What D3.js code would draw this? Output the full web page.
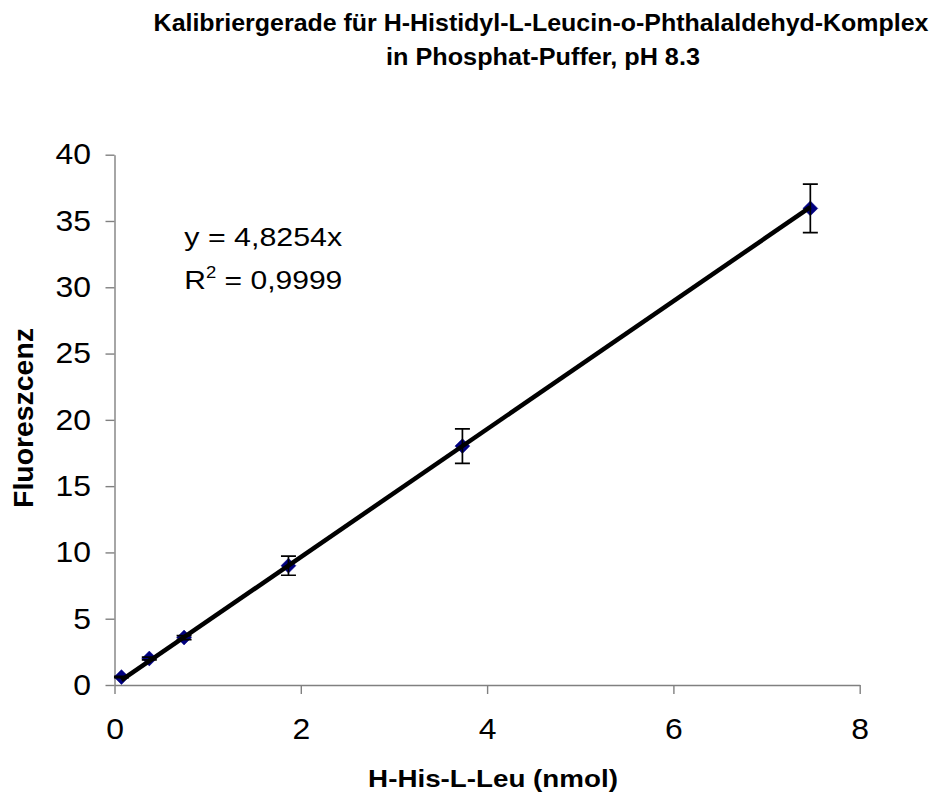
<!DOCTYPE html>
<html>
<head>
<meta charset="utf-8">
<script src="https://cdn.jsdelivr.net/npm/d3@7"></script>
<style>
  html, body { margin: 0; padding: 0; background: #fff; }
  svg { display: block; font-family: "Liberation Sans", Arial, sans-serif; }
</style>
</head>
<body>
<svg id="chart" width="933" height="796"></svg>
<script>
// ---- data ----
const xValues = [0.0747, 0.3735, 0.747, 1.8675, 3.735, 7.47];   // H-His-L-Leu (nmol)
const yValues = [0.6, 2.0, 3.58, 9.0, 18.02, 35.95];            // Fluoreszenz
const yErrors = [0.05, 0.1, 0.15, 0.72, 1.3, 1.83];
const xTicks = [0, 2, 4, 6, 8];
const yTicks = [0, 5, 10, 15, 20, 25, 30, 35, 40];
const slope = 4.8254;
const eqLabel = "y = 4,8254x";
const r2Value = "0,9999";
const titleLines = ["Kalibriergerade für H-Histidyl-L-Leucin-o-Phthalaldehyd-Komplex", "in Phosphat-Puffer, pH 8.3"];
const xTitle = "H-His-L-Leu (nmol)";
const yTitle = "Fluoreszcenz";

// ---- layout ----
const svg = d3.select("#chart");
const x = d3.scaleLinear().domain([0, 8]).range([114.5, 859.7]);
const y = d3.scaleLinear().domain([0, 40]).range([685, 154.7]);
const axisColor = "#808080";

function fitWidth(sel, tx, ty, target, rot) {
  const bw = sel.node().getBBox().width;
  const s = target / bw;
  sel.attr("transform", `translate(${tx},${ty})` + (rot ? ` rotate(${rot})` : "") + ` scale(${s},1)`);
}

// title
const titleSpec = [{cx: 541, by: 30.5, w: 776}, {cx: 543, by: 64.5, w: 314}];
titleLines.forEach((t, i) => {
  const el = svg.append("text").text(t)
    .attr("text-anchor", "middle").attr("font-weight", "bold")
    .attr("font-size", 24).attr("fill", "#000");
  fitWidth(el, titleSpec[i].cx, titleSpec[i].by, titleSpec[i].w);
});

// axes
const tickLabelSize = 29, tickStretch = 1.1;
const gx = svg.append("g").attr("transform", `translate(0,${y(0)})`)
  .call(d3.axisBottom(x).tickValues(xTicks).tickFormat(d3.format("d")).tickSize(9).tickSizeOuter(0).tickPadding(24));
const gy = svg.append("g").attr("transform", `translate(${x(0)},0)`)
  .call(d3.axisLeft(y).tickValues(yTicks).tickFormat(d3.format("d")).tickSize(9).tickSizeOuter(0).tickPadding(14.5));
[gx, gy].forEach(g => {
  g.select(".domain").attr("stroke", axisColor).attr("stroke-width", 1.4);
  g.selectAll(".tick line").attr("stroke", axisColor).attr("stroke-width", 1.4);
  g.selectAll(".tick text").attr("font-size", tickLabelSize).attr("fill", "#000")
    .attr("font-family", "'Liberation Sans', Arial, sans-serif");
});
gx.selectAll(".tick text").attr("transform", `scale(${tickStretch},1)`);
gy.selectAll(".tick text").attr("x", 0)
  .attr("transform", `translate(${-(9 + 14.5)},0) scale(${tickStretch},1)`);

// axis titles
const xt = svg.append("text").text(xTitle).attr("text-anchor", "middle")
  .attr("font-weight", "bold").attr("font-size", 24);
fitWidth(xt, 493, 786.7, 250);
const yt = svg.append("text").text(yTitle).attr("text-anchor", "middle")
  .attr("font-weight", "bold").attr("font-size", 28);
fitWidth(yt, 33, 418, 180, -90);

// data
const data = xValues.map((v, i) => ({x: v, y: yValues[i], e: yErrors[i]}));

// markers
svg.append("g").selectAll("path").data(data).join("path")
  .attr("d", d3.symbol(d3.symbolSquare, 110))
  .attr("transform", d => `translate(${x(d.x)},${y(d.y)}) rotate(45)`)
  .attr("fill", "#000080").attr("stroke", "#000080").attr("stroke-width", 0.5);

// error bars
const eb = svg.append("g").attr("stroke", "#000").attr("stroke-width", 1.7).attr("fill", "none");
const capHalf = 7.5;
eb.selectAll("path").data(data).join("path")
  .attr("d", d => {
    const cx = x(d.x), top = y(d.y + d.e), bot = y(d.y - d.e);
    return `M${cx},${top}V${bot}M${cx - capHalf},${top}H${cx + capHalf}M${cx - capHalf},${bot}H${cx + capHalf}`;
  });

// trendline (linear, through origin)
const xMin = d3.min(xValues), xMax = d3.max(xValues);
svg.append("path")
  .datum([xMin, xMax])
  .attr("d", d3.line().x(d => x(d)).y(d => y(slope * d)))
  .attr("stroke", "#000").attr("stroke-width", 4.5).attr("fill", "none");

// equation
const eq1 = svg.append("text").text(eqLabel).attr("font-size", 26).attr("fill", "#000");
fitWidth(eq1, 184.3, 246, 158);
const eq2 = svg.append("text").attr("font-size", 26).attr("fill", "#000");
eq2.append("tspan").text("R");
eq2.append("tspan").text("2").attr("font-size", 16).attr("dy", -11);
eq2.append("tspan").text(" = " + r2Value).attr("dy", 11);
fitWidth(eq2, 184.3, 289, 158);
</script>
</body>
</html>
